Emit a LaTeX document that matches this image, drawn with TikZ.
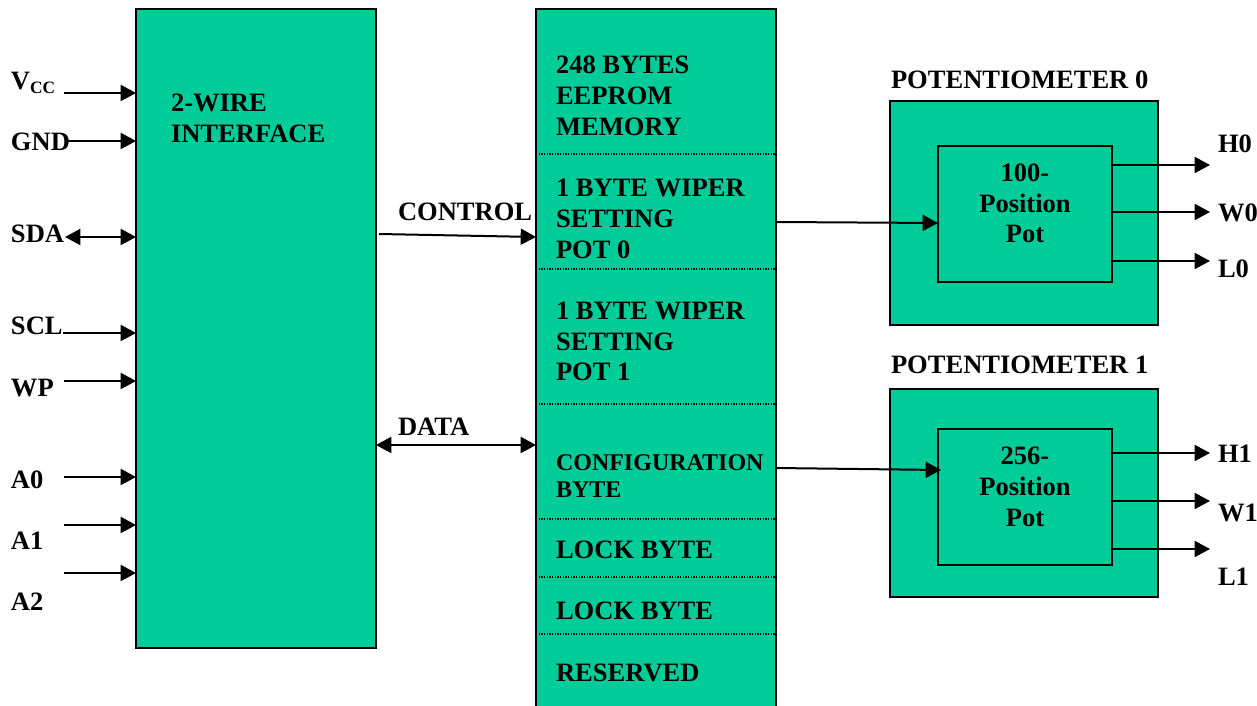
\documentclass[tikz,border=0pt]{standalone}
\usepackage{fontspec}
\setmainfont{Liberation Serif}
\usetikzlibrary{arrows.meta,calc}
\definecolor{boxgreen}{RGB}{0,204,153}
\tikzset{
  x=0.75pt,y=-0.75pt,
  greenbox/.style={draw=black,fill=boxgreen,line width=1.5pt,anchor=north west,inner sep=0pt,outer sep=0pt},
  lab/.style={font=\bfseries\fontsize{19.9}{20}\selectfont,anchor=base west,inner sep=0pt,outer sep=0pt,text=black,text depth=0pt},
  labsm/.style={font=\bfseries\fontsize{18}{18}\selectfont,anchor=base west,inner sep=0pt,outer sep=0pt,text=black},
  divider/.style={line width=1pt,densely dotted,black},
  arr/.style={line width=1.5pt,-{Triangle[length=11.5pt,width=12pt]}},
  biarr/.style={line width=1.5pt,{Triangle[length=11.5pt,width=12pt]}-{Triangle[length=11.5pt,width=12pt]}}
}
\begin{document}
\begin{tikzpicture}
\useasboundingbox (0,0) rectangle (1257,706);
\clip (0,0) rectangle (1257,706);
% main boxes
\node[greenbox,minimum width=180pt,minimum height=479.25pt] (iface) at (136,9) {};
\node[greenbox,minimum width=180pt,minimum height=540pt] (mem) at (536,9) {};
\node[greenbox,minimum width=201pt,minimum height=168pt] (pot0) at (890,101) {};
\node[greenbox,minimum width=130.5pt,minimum height=102pt] (in0) at (938,146) {};
\node[greenbox,minimum width=201pt,minimum height=156pt] (pot1) at (890,389) {};
\node[greenbox,minimum width=130.5pt,minimum height=102pt] (in1) at (938,429) {};
% memory dividers
\foreach \yy/\nm in {154/d1,269/d2,404/d3,519/d4,577/d5,634/d6}{
  \coordinate (\nm) at (536,\yy);
  \draw[divider] (\nm) -- (\nm -| mem.east);
}
% interface text
\node[lab] (t2w) at (171,112) {2-WIRE};
\node[lab] (tif) at (171,143) {INTERFACE};
% memory text
\node[lab] (m1) at (556,74) {248 BYTES};
\node[lab] (m2) at (556,105) {EEPROM};
\node[lab] (m3) at (556,136) {MEMORY};
\node[lab] (m4) at (556,197) {1 BYTE WIPER};
\node[lab] (m5) at (556,228) {SETTING};
\node[lab] (m6) at (556,258) {POT 0};
\node[lab] (m7) at (556,319) {1 BYTE WIPER};
\node[lab] (m8) at (556,350) {SETTING};
\node[lab] (m9) at (556,380) {POT 1};
\node[labsm] (m10) at (556,470) {CONFIGURATION};
\node[labsm] (m11) at (556,497) {BYTE};
\node[lab] (m12) at (556,558) {LOCK BYTE};
\node[lab] (m13) at (556,619) {LOCK BYTE};
\node[lab] (m14) at (556,681) {RESERVED};
% pot text
\node[lab] (pt0) at (891,89) {POTENTIOMETER 0};
\node[lab] (pt1) at (891,373) {POTENTIOMETER 1};
\node[lab,anchor=base] (a1) at (1025,182) {100-};
\node[lab,anchor=base] (a2) at (1025,213) {Position};
\node[lab,anchor=base] (a3) at (1025,243) {Pot};
\node[lab,anchor=base] (b1) at (1025,464) {256-};
\node[lab,anchor=base] (b2) at (1025,495) {Position};
\node[lab,anchor=base] (b3) at (1025,526) {Pot};
% pin labels
\node[lab] (vcc) at (11,90) {V\raisebox{-2.5pt}{\fontsize{13}{13}\selectfont CC}};
\node[lab] (gnd) at (11,151) {GND};
\node[lab] (sda) at (11,243) {SDA};
\node[lab] (scl) at (11,334) {SCL};
\node[lab] (wp) at (11,396) {WP};
\node[lab] (a0) at (11,488) {A0};
\node[lab] (aa1) at (11,549) {A1};
\node[lab] (a2p) at (11,610) {A2};
\node[lab] (tctl) at (398,221) {CONTROL};
\node[lab] (tdata) at (398,435) {DATA};
\node[lab] (h0) at (1218,153) {H0};
\node[lab] (w0) at (1218,222) {W0};
\node[lab] (l0) at (1218,277) {L0};
\node[lab] (h1) at (1218,462) {H1};
\node[lab] (w1) at (1218,521) {W1};
\node[lab] (l1) at (1218,585) {L1};
% left pins
\foreach \nm/\xx/\yy in {pv/64/93,pg/68/141,pscl/63/333,pwp/64/381,pa0/64/477,pa1/64/525,pa2/64/573}{
  \coordinate (\nm) at (\xx,\yy);
  \draw[arr] (\nm) -- (\nm -| iface.west);
}
\coordinate (ps) at (65,237);
\draw[biarr] (ps) -- (ps -| iface.west);
% bus links
\coordinate (cs) at (379,234);
\coordinate (ce) at (536,237);
\draw[arr] (cs) -- (ce);
\coordinate (ds) at (376,445);
\draw[biarr] (ds) -- (ds -| mem.west);
% memory to pots
\coordinate (w0s) at (776,222);
\coordinate (w0e) at (938,223);
\draw[arr] (w0s) -- (w0e);
\coordinate (w1s) at (776,468);
\coordinate (w1e) at (941,470);
\draw[arr] (w1s) -- (w1e);
% pot outputs
\foreach \nm/\yy in {oh0/165,ow0/212,ol0/261,oh1/453,ow1/501,ol1/549}{
  \coordinate (\nm) at (1112,\yy);
  \coordinate (\nm e) at (1210,\yy);
  \draw[arr] (\nm) -- (\nm e);
}
\end{tikzpicture}
\end{document}
